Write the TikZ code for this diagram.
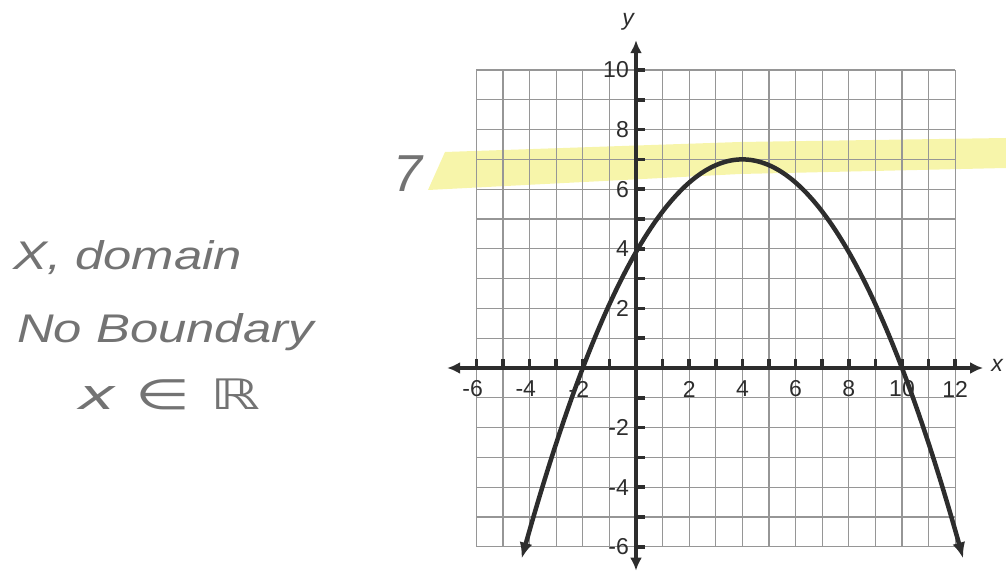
\documentclass[tikz,border=0pt]{standalone}
\usepackage{fontspec}
\setmainfont{Liberation Sans}
\newfontfamily\handfont{Liberation Sans}
\newfontfamily\dejafont{DejaVu Sans}
\usetikzlibrary{arrows.meta}
\definecolor{gridgray}{RGB}{150,150,150}
\definecolor{axisdark}{RGB}{45,45,45}
\definecolor{pencil}{RGB}{115,115,115}
\definecolor{hilite}{RGB}{247,245,170}
\begin{document}
\begin{tikzpicture}[x=26.6pt,y=29.8pt,
  gridline/.style={gridgray, line width=1.3pt},
  axisline/.style={axisdark, line width=4pt, {Latex[length=13pt,width=12pt]}-{Latex[length=13pt,width=12pt]}},
  tickmark/.style={axisdark, line width=3.5pt},
  ticklabel/.style={font=\fontsize{23}{23}\selectfont, text=axisdark, inner sep=0pt},
  axislabel/.style={font=\itshape\fontsize{23}{23}\selectfont, text=axisdark, inner sep=0pt},
  curveline/.style={axisdark, line width=4.5pt, {Latex[length=16pt,width=13pt]}-{Latex[length=16pt,width=13pt]}},
  handtext/.style={font=\handfont\itshape\fontsize{40}{40}\selectfont, text=pencil, inner sep=0pt},
]
\useasboundingbox (-636pt,-204pt) rectangle (370pt,368pt);
% highlighter band
\fill[hilite] (-208pt,178pt) -- (-191pt,216pt) -- (104pt,226pt) -- (370pt,230pt) -- (370pt,200pt) -- (104pt,194pt) -- cycle;
% grid
\foreach \i in {-6,...,12} \draw[gridline] (\i,-6) -- (\i,10);
\foreach \j in {-6,...,10} \draw[gridline] (-6,\j) -- (12,\j);
% axes
\coordinate (xleft) at (-7.1,0);
\coordinate (xright) at (13.05,0);
\coordinate (ybottom) at (0,-6.8);
\coordinate (ytop) at (0,11);
\draw[axisline] (xleft) -- (xright);
\draw[axisline] (ybottom) -- (ytop);
% ticks
\foreach \i in {-6,...,-1,1,2,...,12} \draw[tickmark] (\i,0) -- ++(0,9pt);
\foreach \j in {-6,...,-1,1,2,...,10} \draw[tickmark] (0,\j) -- ++(9pt,0);
% tick labels
\foreach \i in {2,4,...,12} \node[ticklabel] (xl\i) at ([yshift=-21pt]\i,0) {\i};
\foreach \i/\t in {-6/6,-4/4,-2/2} \node[ticklabel] (xln\t) at ([yshift=-21pt]\i,0) {\llap{-}\t};
\foreach \j in {2,4,...,10} \node[ticklabel, anchor=east] (yl\j) at ([xshift=-7pt]0,\j) {\j};
\foreach \j/\t in {-2/2,-4/4,-6/6} \node[ticklabel, anchor=east] (yln\t) at ([xshift=-7pt]0,\j) {-\t};
\node[axislabel] (ylab) at (-8pt,346pt) {y};
\node[axislabel] (xlab) at (361pt,3pt) {x};
% parabola
\draw[curveline] plot[domain=-4.3:12.3, samples=80, smooth] (\x,{7-7/36*(\x-4)^2});
% handwriting
\node[handtext, anchor=base west, xscale=1.27] (dom) at (-623pt,98pt) {X, domain};
\node[handtext, anchor=base west, xscale=1.27] (nob) at (-619pt,25pt) {No Boundary};
\node[handtext, font=\dejafont\itshape\fontsize{42}{42}\selectfont, anchor=base west, xscale=1.5] (xin) at (-558pt,-42pt) {x ∈ ℝ};
\node[handtext, font=\handfont\itshape\fontsize{52}{52}\selectfont] (seven) at (-228pt,194pt) {7};
\end{tikzpicture}
\end{document}
